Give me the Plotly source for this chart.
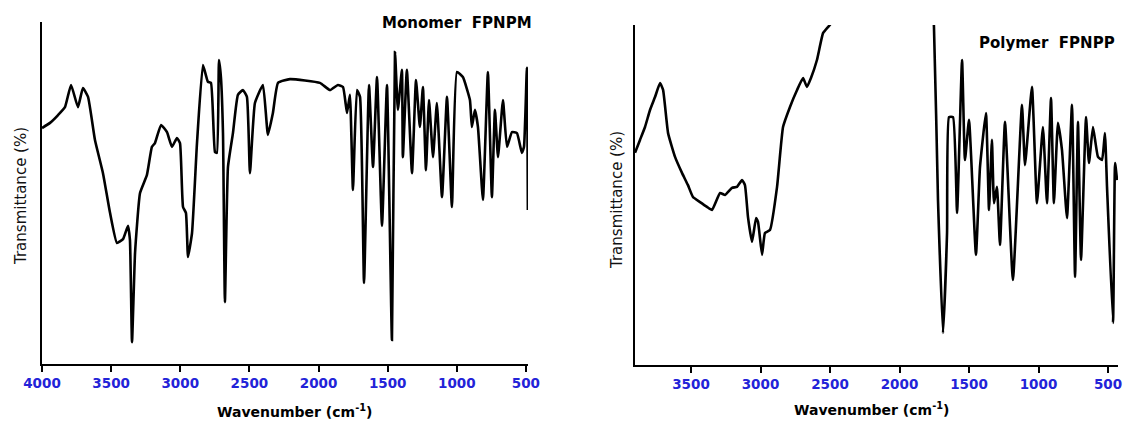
import plotly.graph_objects as go

# ---- Monomer FPNPM (left) ----
mono_wn = [4000, 3942, 3884, 3834, 3790, 3740, 3704, 3667, 3617, 3559, 3508, 3458, 3414, 3378,
           3364, 3349, 3327, 3291, 3241, 3205, 3183, 3139, 3096, 3060, 3024, 3002, 2980, 2959,
           2944, 2915, 2879, 2836, 2800, 2778, 2749, 2735, 2720, 2706, 2691, 2677, 2655, 2619,
           2583, 2547, 2518, 2496, 2460, 2402, 2366, 2330, 2293, 2207, 1990, 1917, 1860, 1823,
           1794, 1773, 1751, 1722, 1700, 1671, 1635, 1606, 1577, 1541, 1505, 1469, 1447, 1426,
           1397, 1390, 1361, 1324, 1295, 1267, 1245, 1223, 1201, 1172, 1144, 1107, 1071, 1035,
           999, 956, 905, 891, 869, 847, 811, 775, 746, 724, 702, 666, 637, 601, 565, 529, 514,
           493, 486]
mono_t = [69.0, 70.5, 72.8, 75.1, 81.6, 75.1, 80.7, 78.1, 65.5, 55.8, 44.2, 35.4, 36.5, 40.4,
          36.3, 6.4, 32.5, 50.0, 55.3, 63.5, 64.6, 69.9, 67.8, 63.5, 66.1, 64.6, 45.9, 44.2,
          31.3, 38.3, 64.6, 87.4, 82.5, 82.2, 62.0, 61.7, 88.9, 83.9, 67.5, 18.1, 57.6, 67.5,
          78.7, 80.1, 78.1, 55.8, 76.3, 81.6, 67.0, 73.4, 82.2, 83.3, 82.2, 80.1, 81.6, 81.0,
          73.4, 78.7, 50.9, 80.1, 78.1, 23.7, 81.6, 57.6, 83.9, 40.4, 81.6, 7.0, 91.2, 74.3,
          86.0, 60.5, 86.0, 55.8, 83.0, 69.3, 81.0, 56.7, 77.2, 60.5, 76.3, 48.8, 78.1, 45.9,
          85.4, 83.9, 77.2, 69.3, 74.3, 69.3, 48.0, 85.4, 48.8, 74.3, 60.5, 77.2, 63.5, 67.8,
          67.5, 61.7, 63.5, 86.6, 45.0]

# ---- Polymer FPNPP (right) ----
poly_wn = [3903, 3867, 3831, 3795, 3759, 3723, 3701, 3665, 3615, 3565, 3522, 3486, 3435, 3385,
           3349, 3291, 3255, 3205, 3169, 3133, 3112, 3090, 3061, 3032, 3018, 2989, 2968, 2932,
           2881, 2838, 2788, 2737, 2694, 2666, 2637, 2594, 2550, 2514, 2493, 2470, 1775, 1752,
           1723, 1687, 1658, 1644, 1615, 1586, 1550, 1529, 1500, 1450, 1421, 1378, 1356, 1335,
           1320, 1299, 1277, 1241, 1184, 1119, 1097, 1047, 1011, 968, 939, 910, 889, 860, 831,
           795, 759, 737, 716, 694, 658, 637, 608, 572, 543, 522, 507, 464, 449, 435]
poly_t = [62.4, 66.2, 70.0, 75.0, 78.8, 82.9, 80.9, 68.2, 61.2, 56.5, 52.9, 49.4, 47.9, 46.5,
          45.6, 50.6, 50.0, 52.1, 52.4, 54.4, 52.9, 43.5, 36.2, 43.2, 42.1, 32.4, 38.8, 39.7,
          52.4, 70.0, 75.9, 80.9, 84.4, 81.8, 84.4, 89.7, 97.6, 99.4, 100.5, 106.0, 110.0, 99.4,
          48.5, 9.4, 38.8, 72.9, 72.9, 44.7, 89.7, 60.3, 72.1, 32.4, 58.2, 74.1, 45.6, 66.2,
          47.6, 52.4, 35.3, 71.5, 25.0, 76.5, 58.8, 81.8, 47.6, 70.0, 47.6, 78.5, 47.6, 71.2,
          63.2, 43.2, 76.5, 25.9, 71.5, 30.9, 72.9, 59.4, 70.0, 61.2, 60.3, 68.2, 52.4, 12.4,
          59.4, 54.4]

mono_ticks = [4000, 3500, 3000, 2500, 2000, 1500, 1000, 500]
poly_ticks = [3500, 3000, 2500, 2000, 1500, 1000, 500]

W, H = 1124, 422
TICK_BLUE = "#2323d8"
FONT_B = "DejaVu Sans"

fig = go.Figure()
fig.add_trace(go.Scatter(x=mono_wn, y=mono_t, mode="lines", xaxis="x", yaxis="y",
                         line=dict(color="black", width=2.6, shape="spline", smoothing=0.4),
                         showlegend=False))
fig.add_trace(go.Scatter(x=poly_wn, y=poly_t, mode="lines", xaxis="x2", yaxis="y2",
                         line=dict(color="black", width=2.6, shape="spline", smoothing=0.4),
                         showlegend=False))

def xax(dom, rng, ticks, anchor):
    return dict(domain=dom, range=rng, autorange=False, anchor=anchor, automargin=False,
                tickmode="array", tickvals=ticks, ticktext=[str(t) for t in ticks],
                showline=True, linecolor="black", linewidth=2.2, ticks="outside",
                ticklen=6, tickwidth=2, tickcolor="black", showgrid=False, zeroline=False,
                tickfont=dict(family=FONT_B, size=13.5, color=TICK_BLUE, weight="bold"))

def yax(dom, anchor):
    return dict(domain=dom, range=[0, 100], autorange=False, anchor=anchor, automargin=False,
                showline=True, linecolor="black", linewidth=2.2, ticks="",
                showticklabels=False, showgrid=False, zeroline=False)

annotations = []
def txt(x, y, s, size, bold=True, angle=0, color="black"):
    annotations.append(dict(x=x / W, y=1 - y / H, xref="paper", yref="paper", text=s,
                            showarrow=False, xanchor="center", yanchor="middle",
                            textangle=angle,
                            font=dict(family=FONT_B, size=size, color=color,
                                      weight="bold" if bold else "normal")))

txt(294, 411, "Wavenumber (cm<sup>-1</sup>)", 14)
txt(872, 409, "Wavenumber (cm<sup>-1</sup>)", 14)
txt(21, 196, "Transmittance (%)", 15, bold=False, angle=-90, color="#111")
txt(617, 200, "Transmittance (%)", 15, bold=False, angle=-90, color="#111")
txt(457, 23, "Monomer&nbsp;&nbsp;FPNPM", 15)
txt(1047, 43, "Polymer&nbsp;&nbsp;FPNPP", 15)

fig.update_layout(
    template="none",
    width=W, height=H, margin=dict(l=0, r=0, t=0, b=0, pad=0, autoexpand=False),
    paper_bgcolor="white", plot_bgcolor="white",
    xaxis=xax([42 / W, 528 / W], [4000, 485], mono_ticks, "y"),
    yaxis=yax([1 - 364 / H, 1 - 22 / H], "x"),
    xaxis2=xax([635 / W, 1118 / W], [3903, 428], poly_ticks, "y2"),
    yaxis2=yax([1 - 365 / H, 1 - 25 / H], "x2"),
    annotations=annotations,
)

fig.write_html("out.html")
